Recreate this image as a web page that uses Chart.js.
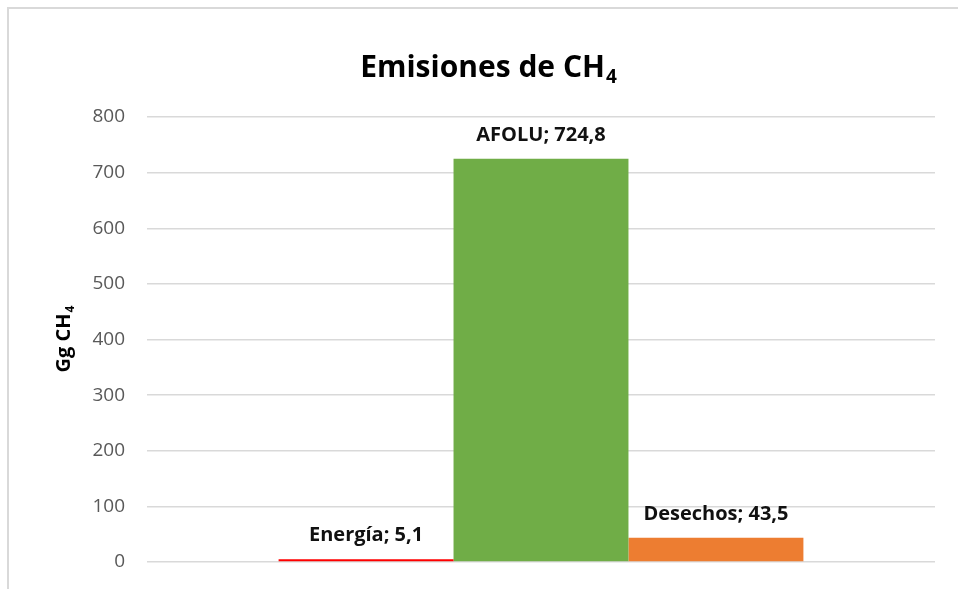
<!DOCTYPE html>
<html>
<head>
<meta charset="utf-8">
<script src="https://cdn.jsdelivr.net/npm/chart.js@4.4.0/dist/chart.umd.min.js"></script>
<style>
  html, body { margin: 0; padding: 0; background: #fff; }
</style>
</head>
<body>
<canvas id="emisiones" width="958" height="589"></canvas>
<script>
// datos del grafico
var categories = ['Energía', 'AFOLU', 'Desechos'];
var values = [5.1, 724.8, 43.5];
var barColors = ['#ff0000', '#70ad47', '#ed7d31'];
var yMin = 0, yMax = 800, yStep = 100;

var FONT = '"Open Sans", "Noto Sans", sans-serif';

// texto con subindice (CH4)
function drawSub(ctx, main, sub, x, y, size, align) {
	ctx.font = 'bold ' + size + 'px ' + FONT;
	var w1 = ctx.measureText(main).width;
	ctx.font = 'bold ' + Math.round(size * 0.62) + 'px ' + FONT;
	var w2 = ctx.measureText(sub).width;
	var x0 = align == 'center' ? x - (w1 + w2) / 2 : x;
	ctx.textAlign = 'left';
	ctx.textBaseline = 'alphabetic';
	ctx.font = 'bold ' + size + 'px ' + FONT;
	ctx.fillText(main, x0, y);
	ctx.font = 'bold ' + Math.round(size * 0.62) + 'px ' + FONT;
	ctx.fillText(sub, x0 + w1 + 1, y + size * 0.2);
}

var textPlugin = {
	id: 'textos',
	beforeDraw: function (chart) {
		var ctx = chart.ctx;
		ctx.save();
		// marco del grafico
		ctx.strokeStyle = '#d9d9d9';
		ctx.lineWidth = 2;
		ctx.beginPath();
		ctx.moveTo(8, 589);
		ctx.lineTo(8, 8);
		ctx.lineTo(958, 8);
		ctx.stroke();
		ctx.restore();
	},
	afterDatasetsDraw: function (chart) {
		var ctx = chart.ctx;
		var area = chart.chartArea;
		ctx.save();
		ctx.fillStyle = '#000';
		drawSub(ctx, 'Emisiones de CH', '4', 488, 77, 30, 'center');

		// titulo eje y
		ctx.save();
		ctx.translate(70, (area.top + area.bottom) / 2);
		ctx.rotate(-Math.PI / 2);
		drawSub(ctx, 'Gg CH', '4', 0, 0, 20, 'center');
		ctx.restore();

		// etiquetas de datos
		ctx.font = 'bold 20px ' + FONT;
		ctx.textAlign = 'center';
		ctx.textBaseline = 'alphabetic';
		ctx.fillStyle = '#111';
		chart.data.datasets.forEach(function (ds, i) {
			var bar = chart.getDatasetMeta(i).data[0];
			var txt = ds.label + '; ' + ds.data[0].toString().replace('.', ',');
			ctx.fillText(txt, bar.x, bar.y - 18);
		});
		ctx.restore();
	}
};

var datasets = [];
for (var i in categories) {
	datasets.push({
		label: categories[i],
		data: [values[i]],
		backgroundColor: barColors[i],
		borderWidth: 0,
		barPercentage: 1,
		categoryPercentage: 0.666
	});
}

var ctx = document.getElementById('emisiones').getContext('2d');
var chart = new Chart(ctx, {
	type: 'bar',
	data: { labels: ['CH4'], datasets: datasets },
	plugins: [textPlugin],
	options: {
		responsive: false,
		animation: false,
		layout: { padding: { left: 0, right: 23, top: 117, bottom: 27 } },
		plugins: {
			legend: { display: false },
			title: { display: false },
			tooltip: { enabled: false }
		},
		scales: {
			x: { display: false },
			y: {
				min: yMin,
				max: yMax,
				ticks: {
					stepSize: yStep,
					color: '#595959',
					padding: 0,
					font: { family: FONT, size: 19 }
				},
				// marcas invisibles para separar las etiquetas de la rejilla
				grid: { color: '#d9d9d9', lineWidth: 1.5, drawTicks: true, tickLength: 22, tickColor: 'rgba(0,0,0,0)' },
				border: { display: false },
				afterFit: function (scale) { scale.width = 147; }
			}
		}
	}
});
</script>
</body>
</html>
